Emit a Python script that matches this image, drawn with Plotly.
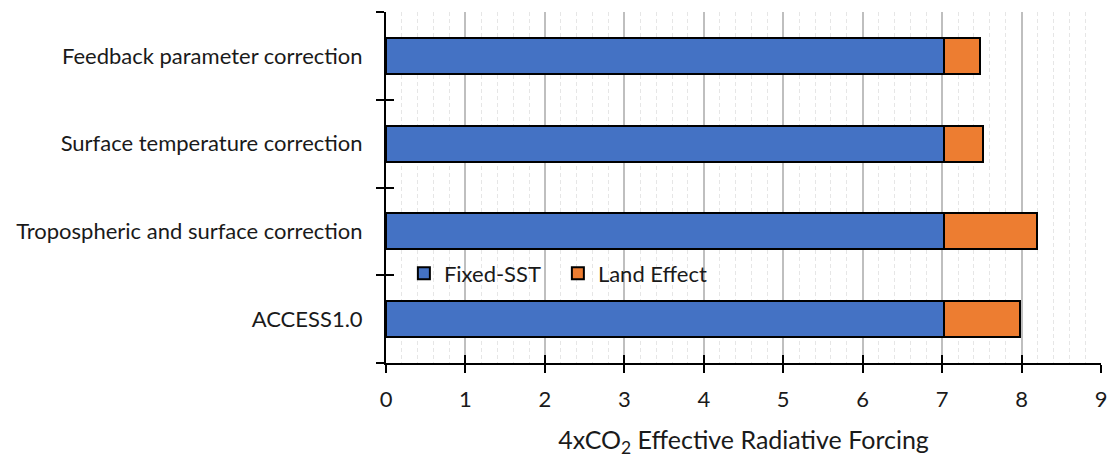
import plotly.graph_objects as go

categories = ["ACCESS1.0", "Tropospheric and surface correction",
              "Surface temperature correction", "Feedback parameter correction"]
fixed_sst = [7.02, 7.02, 7.02, 7.02]
land_effect = [0.96, 1.17, 0.49, 0.46]
x_ticks = [0, 1, 2, 3, 4, 5, 6, 7, 8, 9]

FONT = "Lato"
BLUE = "#4472C4"
ORANGE = "#ED7D31"

fig = go.Figure()
fig.add_trace(go.Bar(y=categories, x=fixed_sst, name="Fixed-SST", orientation="h",
                     marker=dict(color=BLUE, line=dict(color="black", width=2))))
fig.add_trace(go.Bar(y=categories, x=land_effect, name="Land Effect", orientation="h",
                     marker=dict(color=ORANGE, line=dict(color="black", width=2))))
# helper trace for the overlay axes (inner halves of crossing ticks)
fig.add_trace(go.Scatter(y=categories, x=[0] * len(categories), xaxis="x2", yaxis="y2",
                         mode="markers", marker=dict(opacity=0), showlegend=False,
                         hoverinfo="skip"))

fig.update_layout(
    barmode="stack",
    bargap=0.59,
    width=1109, height=459,
    margin=dict(l=386, r=8, t=12, b=96),
    paper_bgcolor="white", plot_bgcolor="white",
    font=dict(family=FONT, size=22, color="#1a1a1a"),
    showlegend=True,
    legend=dict(orientation="h", x=0.025, y=0.255, xanchor="left", yanchor="middle",
                bgcolor="rgba(0,0,0,0)", font=dict(size=22), itemwidth=30,
                entrywidth=109, entrywidthmode="pixels", traceorder="normal"),
    xaxis=dict(range=[0, 9], tickvals=x_ticks, ticks="outside", ticklen=8,
               tickwidth=2, tickcolor="black", showline=True, linecolor="black",
               linewidth=2, showgrid=True, gridcolor="#BFBFBF", gridwidth=1.5,
               zeroline=False, tickfont=dict(size=22), ticklabelstandoff=8,
               automargin=False,
               minor=dict(dtick=0.2, showgrid=True, gridcolor="#E6E6E6",
                          griddash="4px,3px", gridwidth=1),
               title=dict(text="4xCO<sub>2</sub> Effective Radiative Forcing",
                          font=dict(size=25), standoff=20)),
    yaxis=dict(type="category", categoryorder="array", categoryarray=categories,
               range=[-0.5, 3.5], tickson="boundaries", ticks="outside", ticklen=8,
               tickwidth=2, tickcolor="black", showline=True, linecolor="black",
               linewidth=2, showgrid=False, ticklabelstandoff=17, automargin=False),
    xaxis2=dict(overlaying="x", range=[0, 9], tickvals=x_ticks, ticks="inside",
                ticklen=8, tickwidth=2, tickcolor="black", showticklabels=False,
                showgrid=False, zeroline=False, side="bottom", anchor="y2"),
    yaxis2=dict(overlaying="y", type="category", categoryorder="array",
                categoryarray=categories, range=[-0.5, 3.5], tickson="boundaries",
                ticks="inside", ticklen=8, tickwidth=2, tickcolor="black",
                showticklabels=False, showgrid=False, anchor="x2"),
)

fig.write_html("out.html")
